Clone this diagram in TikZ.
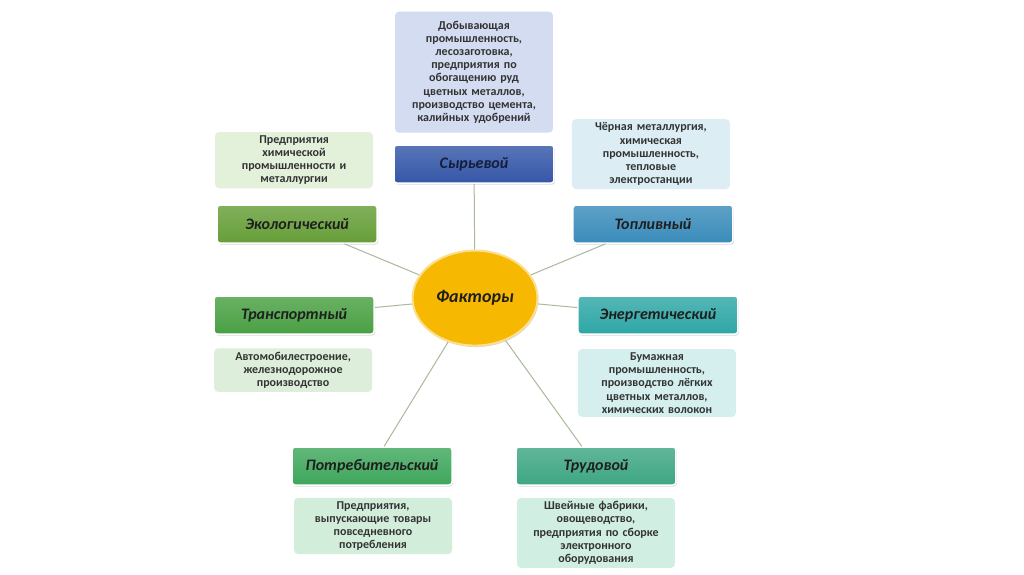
\documentclass[tikz,border=0pt]{standalone}
\usepackage{fontspec}
\setmainfont{Carlito}
\usetikzlibrary{shapes.geometric,shadows}

\definecolor{syrc}{HTML}{3557A8}
\definecolor{ecoc}{HTML}{669E38}
\definecolor{topc}{HTML}{3A8CBB}
\definecolor{trac}{HTML}{49A043}
\definecolor{enec}{HTML}{2EA7A6}
\definecolor{potc}{HTML}{3FA75C}
\definecolor{truc}{HTML}{3EA683}
\definecolor{syrd}{HTML}{D3DCF1}
\definecolor{ecod}{HTML}{E3F0DA}
\definecolor{topd}{HTML}{DCEEF4}
\definecolor{trad}{HTML}{DDEFDB}
\definecolor{ened}{HTML}{D4EFEE}
\definecolor{potd}{HTML}{D2EEDB}
\definecolor{trud}{HTML}{D1EEE2}
\definecolor{goldc}{HTML}{F6B800}
\definecolor{spokec}{HTML}{A9B99C}

\begin{document}
\begin{tikzpicture}[x=1pt,y=-1pt,
	facbox/.style={draw=white, line width=1.5pt, rounded corners=3pt,
		minimum width=160pt, minimum height=38pt,
		font=\fontsize{16}{18}\selectfont\bfseries\itshape, text=black!88,
		drop shadow={opacity=0.3, shadow xshift=1pt, shadow yshift=-1.5pt}},
	descbox/.style={rounded corners=4pt, text width=152pt, align=center,
		inner xsep=3pt, inner ysep=3.5pt,
		font=\fontsize{12}{13.2}\selectfont\bfseries, text=black!80},
	spoke/.style={draw=spokec, line width=1pt}]

% Just a workaround to fix the size of the picture
\filldraw[color=white,fill=white] (0,0) rectangle (1024,574);

% Centre
\node[ellipse, minimum width=125pt, minimum height=95pt,
	fill=goldc, draw=goldc!45!white, line width=2pt,
	drop shadow={opacity=0.3, shadow xshift=1pt, shadow yshift=-1.5pt},
	font=\fontsize{18}{20}\selectfont\bfseries\itshape, text=black!88]
	(fac) at (475,298) {Факторы};

% Factor boxes
\newcommand{\facnode}[4]{
	\node[facbox, top color=#3!82!white, bottom color=#3]
		(#1) at (#2) {#4}
	;
}
\facnode {syr} {474,164} {syrc} {\textcolor{syrc!35!black}{Сырьевой}}
\facnode {eco} {297,224} {ecoc} {Экологический}
\facnode {top} {653,224} {topc} {Топливный}
\facnode {tra} {294,315} {trac} {Транспортный}
\facnode {ene} {658,315} {enec} {Энергетический}
\facnode {pot} {372,466} {potc} {Потребительский}
\facnode {tru} {596,466} {truc} {Трудовой}

% Description boxes
\newcommand{\descnode}[4]{
	\node[descbox, fill=#3, #4]
		(#1) at (#2)
}
\descnode {syrtxt} {474,72}  {syrd} {minimum height=121pt} {Добывающая\\ промышленность,\\ лесозаготовка,\\ предприятия по\\ обогащению руд\\ цветных металлов,\\ производство цемента,\\ калийных удобрений};
\descnode {ecotxt} {294,160} {ecod} {} {Предприятия\\ химической\\ промышленности и\\ металлургии};
\descnode {toptxt} {651,154} {topd} {} {Чёрная металлургия,\\ химическая\\ промышленность,\\ тепловые\\ электростанции};
\descnode {tratxt} {293,370} {trad} {} {Автомобилестроение,\\ железнодорожное\\ производство};
\descnode {enetxt} {657,383} {ened} {} {Бумажная\\ промышленность,\\ производство лёгких\\ цветных металлов,\\ химических волокон};
\descnode {pottxt} {373,526} {potd} {} {Предприятия,\\ выпускающие товары\\ повседневного\\ потребления};
\descnode {trutxt} {596,533} {trud} {} {Швейные фабрики,\\ овощеводство,\\ предприятия по сборке\\ электронного\\ оборудования};

% Spokes
\foreach \f in {syr,eco,top,tra,ene,pot,tru}
	\draw[spoke] (fac) -- (\f);
\end{tikzpicture}
\end{document}
